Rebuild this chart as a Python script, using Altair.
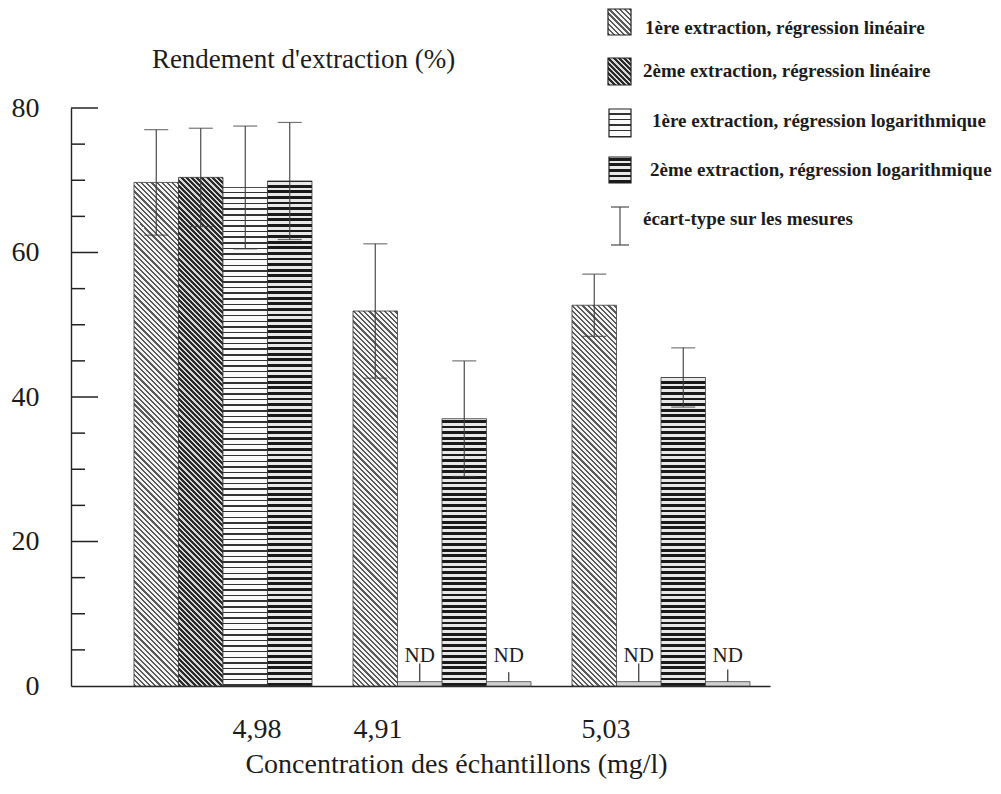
import altair as alt
import pandas as pd

# ---------------- data ----------------
groups = ["4,98", "4,91", "5,03"]
series = [
    "1ère extraction, régression linéaire",
    "2ème extraction, régression linéaire",
    "1ère extraction, régression logarithmique",
    "2ème extraction, régression logarithmique",
]
# rendement d'extraction (%), None = ND (non détecté)
lin1 = [69.7, 51.9, 52.7]
lin1_sd = [7.3, 9.3, 4.3]
lin2 = [70.4, None, None]
lin2_sd = [6.8, None, None]
log1 = [69.0, 37.0, 42.7]
log1_sd = [8.5, 8.0, 4.1]
log2 = [69.9, None, None]
log2_sd = [8.1, None, None]
# top of the short marks drawn above the ND bars (%)
lin2_nd_mark = [None, 3.1, 3.1]
log2_nd_mark = [None, 1.9, 2.3]
ND_HEIGHT = 0.6  # drawn height of an ND bar

y_labels = [0, 20, 40, 60, 80]
y_major = [20, 40, 60, 80]
y_minor = [5, 10, 15, 25, 30, 35, 45, 50, 55, 65, 70, 75]
legend_labels = series + ["écart-type sur les mesures"]

y_title = "Rendement d'extraction (%)"
x_title = "Concentration des échantillons (mg/l)"

# hatch used by each bar position in each group (style)
bar_patterns = {
    "4,98": ["diag_light", "diag_dark", "horiz_light", "horiz_dark"],
    "4,91": ["diag_light", None, "horiz_dark", None],
    "5,03": ["diag_light", None, "horiz_dark", None],
}

# ---------------- layout / style ----------------
SERIF = "Liberation Serif"
TXT = "#1c1c1c"
PAGE_MARGIN = 8
PAD_L, PAD_T, PAD_R, PAD_B = 63, 100, 223, 94
W, H = 699, 578
OX, OY = PAGE_MARGIN + PAD_L, PAGE_MARGIN + PAD_T
P_IN, P_OUT, ALIGN = 0.1872, 0.1895, 0.759
STEP = W / (3 - P_IN + 2 * P_OUT)
BAR_W = STEP * (1 - P_IN) / 4
YMAX = 80

PATTERNS = {
    "diag_light": dict(period=5.2, dark=2.2, dark_col="#5a5a5a", light_col="#f4f4f4"),
    "diag_dark": dict(period=5.2, dark=3.0, dark_col="#2a2a2a", light_col="#d6d6d6"),
    "horiz_light": dict(period=5.6, dark=1.5, dark_col="#333333", light_col="#fbfbfb"),
    "horiz_dark": dict(period=5.6, dark=2.8, dark_col="#1a1a1a", light_col="#e8e8e8"),
}


def stripes(kind, w, h):
    p = PATTERNS[kind]
    period, dark, cd, cl = p["period"], p["dark"], p["dark_col"], p["light_col"]
    if kind.startswith("diag"):
        L = w + h
        t = (w + h) / (w * w + h * h)
        coords = dict(x1=0, y1=1, x2=round(w * t, 6), y2=round(1 - h * t, 6))
    else:
        L = h
        coords = dict(x1=0, y1=1, x2=0, y2=0)
    stops = []
    k = 0
    while k * period < L:
        a = k * period / L
        b = min((k * period + dark) / L, 1)
        c = min((k + 1) * period / L, 1)
        stops += [
            {"offset": round(a, 5), "color": cd},
            {"offset": round(b, 5), "color": cd},
            {"offset": round(b, 5), "color": cl},
            {"offset": round(c, 5), "color": cl},
        ]
        k += 1
    return {"gradient": "linear", **coords, "stops": stops}


# ---------------- table ----------------
vals = [lin1, lin2, log1, log2]
sds = [lin1_sd, lin2_sd, log1_sd, log2_sd]
nd_marks = [[None] * 3, lin2_nd_mark, [None] * 3, log2_nd_mark]
rows = []
for gi, g in enumerate(groups):
    for si, s in enumerate(series):
        v = vals[si][gi]
        sd = sds[si][gi]
        rows.append(dict(
            bid=gi * 4 + si, group=g, series=s, value=v,
            lo=(v - sd) if v is not None else None,
            hi=(v + sd) if v is not None else None,
            nd=v is None,
            ndh=ND_HEIGHT if v is None else None,
            ndtop=nd_marks[si][gi],
        ))
df = pd.DataFrame(rows)

# ---------------- encodings ----------------
label_shift = {"4,98": 34, "4,91": -64, "5,03": -55}
x_axis = alt.Axis(
    title=x_title, titleFont=SERIF, titleFontSize=28, titleFontWeight="normal",
    titleColor=TXT, titleX=456 - OX, titleY=772 - OY - H, titleAlign="center",
    titleBaseline="alphabetic",
    labelFont=SERIF, labelFontSize=28, labelColor=TXT, labelAngle=0,
    labelBaseline="alphabetic", labelPadding=51,
    labelOffset={"condition": [{"test": f"datum.value === '{g}'", "value": v}
                               for g, v in label_shift.items()], "value": 0},
    ticks=False, tickSize=0, domainColor="#222", domainWidth=1.4, grid=False,
)
y_axis = alt.Axis(
    title=y_title, titleFont=SERIF, titleFontSize=27, titleFontWeight="normal",
    titleColor=TXT, titleAngle=0, titleX=303 - OX, titleY=67 - OY,
    titleAlign="center", titleBaseline="alphabetic",
    values=y_labels, labelFont=SERIF, labelFontSize=28, labelColor=TXT,
    labelPadding=32, ticks=False, tickSize=0, domainColor="#222",
    domainWidth=1.4, grid=False,
)
xscale = alt.Scale(domain=groups, paddingInner=P_IN, paddingOuter=P_OUT, align=ALIGN)
yscale = alt.Scale(domain=[0, YMAX], nice=False, zero=True)
X = alt.X("group:N", sort=groups, scale=xscale, axis=x_axis)
XO = alt.XOffset("series:N", sort=series,
                 scale=alt.Scale(domain=series, paddingInner=0, paddingOuter=0))


def Y(field):
    return alt.Y(f"{field}:Q", scale=yscale, axis=y_axis)


layers = []

# y ticks (pointing inwards)
layers.append(alt.Chart(pd.DataFrame({"t": y_major})).mark_rule(
    color="#222", strokeWidth=1.5).encode(y=Y("t"), x=alt.value(0), x2=alt.value(27)))
layers.append(alt.Chart(pd.DataFrame({"t": y_minor})).mark_rule(
    color="#222", strokeWidth=1.5).encode(y=Y("t"), x=alt.value(0), x2=alt.value(14)))

# hatched bars
for r in rows:
    if r["value"] is None:
        continue
    kind = bar_patterns[r["group"]][series.index(r["series"])]
    h = r["value"] * H / YMAX
    layers.append(
        alt.Chart(df).transform_filter(f"datum.bid == {r['bid']}")
        .mark_bar(fill=stripes(kind, BAR_W, h), stroke="#3a3a3a", strokeWidth=0.8)
        .encode(x=X, xOffset=XO, y=Y("value"))
    )

# ND bars, marks and labels
nd_base = alt.Chart(df).transform_filter("datum.nd")
layers.append(nd_base.mark_bar(fill="#d0d0d0", stroke="#444", strokeWidth=0.8)
              .encode(x=X, xOffset=XO, y=Y("ndh")))
layers.append(nd_base.mark_rule(color="#333", strokeWidth=1.2)
              .encode(x=X, xOffset=XO, y=Y("ndh"), y2="ndtop:Q"))
layers.append(nd_base.mark_text(text="ND", font=SERIF, fontSize=21, color=TXT,
                                baseline="alphabetic", dy=-20)
              .encode(x=X, xOffset=XO, y=Y("ndh")))

# error bars
err = alt.Chart(df).transform_filter("isValid(datum.hi)")
EC = "#3c3c3c"
layers.append(err.mark_rule(color=EC, strokeWidth=1.1)
              .encode(x=X, xOffset=XO, y=Y("lo"), y2="hi:Q"))
layers.append(err.mark_tick(color=EC, size=24, thickness=1.2)
              .encode(x=X, xOffset=XO, y=Y("hi")))
layers.append(err.mark_tick(color=EC, size=24, thickness=1.2)
              .encode(x=X, xOffset=XO, y=Y("lo")))

# ---------------- legend (page coordinates -> plot coordinates) ----------------
swatch_boxes = [(608, 9, 631, 35), (608, 58, 631, 85), (609, 109, 631, 137), (609, 157, 631, 183)]
swatch_kinds = ["diag_light", "diag_dark", "horiz_light", "horiz_dark"]
text_pos = [(645, 34), (643, 77), (652, 127), (650, 176), (643, 225)]

for (x0, y0, x1, y1), kind, lab in zip(swatch_boxes, swatch_kinds, legend_labels):
    layers.append(
        alt.Chart(pd.DataFrame({"label": [lab]}))
        .mark_rect(fill=stripes(kind, x1 - x0, y1 - y0), stroke="#222", strokeWidth=1.2)
        .encode(x=alt.value(x0 - OX), x2=alt.value(x1 - OX),
                y=alt.value(y0 - OY), y2=alt.value(y1 - OY))
    )
# error-bar symbol
ex, ey0, ey1, ecap = 620, 207, 245, 9
sym = alt.Chart(pd.DataFrame({"label": [legend_labels[4]]}))
layers.append(sym.mark_rule(color=EC, strokeWidth=1.1).encode(
    x=alt.value(ex - OX), y=alt.value(ey0 - OY), y2=alt.value(ey1 - OY)))
for yy in (ey0, ey1):
    layers.append(sym.mark_rule(color=EC, strokeWidth=1.1).encode(
        x=alt.value(ex - ecap - OX), x2=alt.value(ex + ecap - OX), y=alt.value(yy - OY)))

for (tx, ty), lab in zip(text_pos, legend_labels):
    layers.append(
        alt.Chart(pd.DataFrame({"label": [lab]}))
        .mark_text(font=SERIF, fontSize=19, fontWeight="bold", color=TXT,
                   align="left", baseline="alphabetic")
        .encode(text="label:N", x=alt.value(tx - OX), y=alt.value(ty - OY))
    )

chart = (
    alt.layer(*layers)
    .properties(width=W, height=H, autosize=alt.AutoSizeParams(type="none"),
                padding={"left": PAD_L, "top": PAD_T, "right": PAD_R, "bottom": PAD_B},
                background="white")
    .configure_view(stroke=None)
)

chart.save("out.html", embed_options={"renderer": "svg", "actions": False})
